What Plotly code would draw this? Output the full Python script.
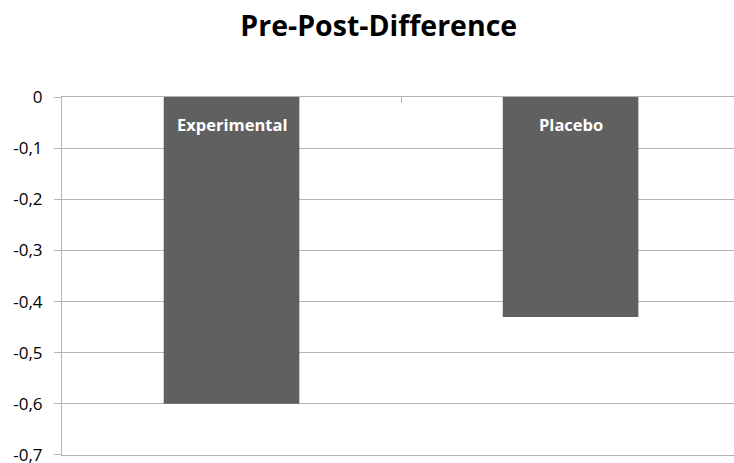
import plotly.graph_objects as go

# Mean pre/post change per group
groups = ["Experimental", "Placebo"]
differences = [-0.60, -0.43]

# Y axis ticks (0 down to -0.7 in steps of 0.1)
tick_values = [0, -0.1, -0.2, -0.3, -0.4, -0.5, -0.6, -0.7]
tick_labels = ["0" if v == 0 else f"{v:.1f}".replace(".", ",") for v in tick_values]

positions = list(range(len(groups)))
font_family = "'Open Sans', sans-serif"
grid_color = "#b4b4b4"

fig = go.Figure(
    go.Bar(
        x=positions,
        y=differences,
        width=0.4,
        marker=dict(color="#606060", line=dict(width=0)),
        hoverinfo="skip",
    )
)

# Group names written in white near the top of each bar
for pos, name in zip(positions, groups):
    fig.add_annotation(
        x=pos, y=0, xref="x", yref="y",
        text=f"<b>{name}</b>",
        showarrow=False,
        yanchor="middle",
        yshift=-27,
        font=dict(family=font_family, size=16.5, color="white"),
    )

fig.update_layout(
    width=734,
    height=463,
    margin=dict(l=62, r=0, t=97, b=8),
    paper_bgcolor="white",
    plot_bgcolor="white",
    showlegend=False,
    title=dict(
        text="<b>Pre-Post-Difference</b>",
        x=0.516, xanchor="center",
        y=0.944, yanchor="middle",
        font=dict(family=font_family, size=28.5, color="black"),
    ),
    xaxis=dict(
        range=[-0.5, 1.482],
        side="top",
        showline=True,
        mirror=True,
        linecolor=grid_color,
        linewidth=1,
        showgrid=False,
        zeroline=False,
        tickvals=[0.5],
        ticks="inside",
        ticklen=6,
        tickcolor=grid_color,
        showticklabels=False,
        automargin=False,
    ),
    yaxis=dict(
        range=[-0.70001, 0],
        tickvals=tick_values,
        ticktext=tick_labels,
        showline=True,
        linecolor=grid_color,
        linewidth=1,
        showgrid=True,
        gridcolor=grid_color,
        gridwidth=1,
        zeroline=False,
        ticks="outside",
        ticklen=7,
        tickcolor=grid_color,
        tickfont=dict(family=font_family, size=17, color="black"),
        ticklabelstandoff=8,
        ticklabeloverflow="allow",
        automargin=False,
    ),
)

fig.write_html("out.html")
